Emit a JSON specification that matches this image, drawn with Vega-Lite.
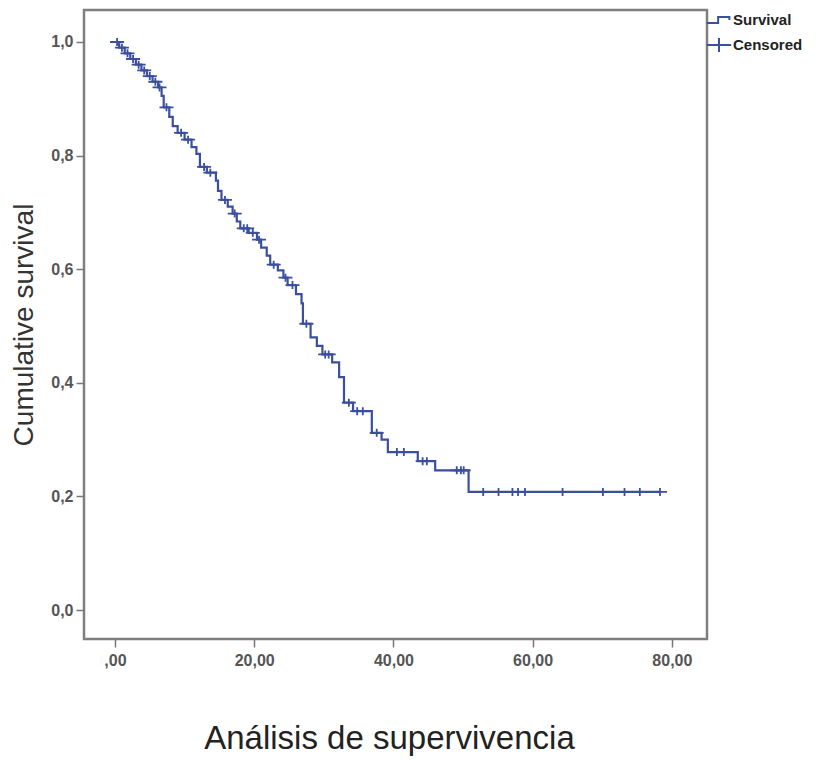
{
  "$schema": "https://vega.github.io/schema/vega-lite/v6.json",
  "width": 623,
  "height": 629,
  "autosize": "none",
  "padding": {"left": 84, "top": 10, "right": 111, "bottom": 121},
  "background": "white",
  "config": {
    "view": {"stroke": "#7f7f7f", "strokeWidth": 2.5},
    "font": "Liberation Sans"
  },
  "datasets": {
    "curve": [
      {"t": 0.0, "s": 1.000, "type": "Survival"},
      {"t": 0.6, "s": 0.990, "type": "Survival"},
      {"t": 1.4, "s": 0.980, "type": "Survival"},
      {"t": 2.2, "s": 0.970, "type": "Survival"},
      {"t": 3.0, "s": 0.960, "type": "Survival"},
      {"t": 3.8, "s": 0.950, "type": "Survival"},
      {"t": 4.6, "s": 0.940, "type": "Survival"},
      {"t": 5.4, "s": 0.930, "type": "Survival"},
      {"t": 6.2, "s": 0.920, "type": "Survival"},
      {"t": 6.7, "s": 0.905, "type": "Survival"},
      {"t": 7.0, "s": 0.885, "type": "Survival"},
      {"t": 7.8, "s": 0.868, "type": "Survival"},
      {"t": 8.3, "s": 0.852, "type": "Survival"},
      {"t": 9.0, "s": 0.840, "type": "Survival"},
      {"t": 10.0, "s": 0.828, "type": "Survival"},
      {"t": 11.0, "s": 0.815, "type": "Survival"},
      {"t": 11.7, "s": 0.803, "type": "Survival"},
      {"t": 12.2, "s": 0.780, "type": "Survival"},
      {"t": 13.2, "s": 0.770, "type": "Survival"},
      {"t": 14.5, "s": 0.756, "type": "Survival"},
      {"t": 14.8, "s": 0.738, "type": "Survival"},
      {"t": 15.3, "s": 0.722, "type": "Survival"},
      {"t": 16.2, "s": 0.710, "type": "Survival"},
      {"t": 16.9, "s": 0.698, "type": "Survival"},
      {"t": 17.5, "s": 0.684, "type": "Survival"},
      {"t": 18.0, "s": 0.672, "type": "Survival"},
      {"t": 19.2, "s": 0.664, "type": "Survival"},
      {"t": 20.4, "s": 0.652, "type": "Survival"},
      {"t": 21.0, "s": 0.638, "type": "Survival"},
      {"t": 21.8, "s": 0.624, "type": "Survival"},
      {"t": 22.3, "s": 0.608, "type": "Survival"},
      {"t": 23.4, "s": 0.598, "type": "Survival"},
      {"t": 24.2, "s": 0.585, "type": "Survival"},
      {"t": 24.8, "s": 0.572, "type": "Survival"},
      {"t": 26.0, "s": 0.556, "type": "Survival"},
      {"t": 26.8, "s": 0.540, "type": "Survival"},
      {"t": 27.0, "s": 0.504, "type": "Survival"},
      {"t": 28.1, "s": 0.480, "type": "Survival"},
      {"t": 29.0, "s": 0.465, "type": "Survival"},
      {"t": 29.8, "s": 0.450, "type": "Survival"},
      {"t": 31.2, "s": 0.436, "type": "Survival"},
      {"t": 32.2, "s": 0.410, "type": "Survival"},
      {"t": 32.9, "s": 0.365, "type": "Survival"},
      {"t": 34.2, "s": 0.350, "type": "Survival"},
      {"t": 36.9, "s": 0.312, "type": "Survival"},
      {"t": 38.3, "s": 0.300, "type": "Survival"},
      {"t": 39.2, "s": 0.278, "type": "Survival"},
      {"t": 43.5, "s": 0.262, "type": "Survival"},
      {"t": 46.0, "s": 0.246, "type": "Survival"},
      {"t": 50.8, "s": 0.208, "type": "Survival"},
      {"t": 78.3, "s": 0.208, "type": "Survival"}
    ],
    "censored": [
      {"t": 0.3, "s": 1.000, "type": "Censored"},
      {"t": 1.0, "s": 0.990, "type": "Censored"},
      {"t": 1.8, "s": 0.980, "type": "Censored"},
      {"t": 2.6, "s": 0.970, "type": "Censored"},
      {"t": 3.4, "s": 0.960, "type": "Censored"},
      {"t": 4.2, "s": 0.950, "type": "Censored"},
      {"t": 5.0, "s": 0.940, "type": "Censored"},
      {"t": 5.8, "s": 0.930, "type": "Censored"},
      {"t": 6.4, "s": 0.920, "type": "Censored"},
      {"t": 7.4, "s": 0.885, "type": "Censored"},
      {"t": 9.5, "s": 0.840, "type": "Censored"},
      {"t": 10.5, "s": 0.828, "type": "Censored"},
      {"t": 12.8, "s": 0.780, "type": "Censored"},
      {"t": 13.7, "s": 0.770, "type": "Censored"},
      {"t": 15.8, "s": 0.722, "type": "Censored"},
      {"t": 17.2, "s": 0.698, "type": "Censored"},
      {"t": 18.5, "s": 0.672, "type": "Censored"},
      {"t": 19.0, "s": 0.672, "type": "Censored"},
      {"t": 19.8, "s": 0.664, "type": "Censored"},
      {"t": 20.7, "s": 0.652, "type": "Censored"},
      {"t": 22.8, "s": 0.608, "type": "Censored"},
      {"t": 24.5, "s": 0.585, "type": "Censored"},
      {"t": 25.5, "s": 0.572, "type": "Censored"},
      {"t": 27.5, "s": 0.504, "type": "Censored"},
      {"t": 30.2, "s": 0.450, "type": "Censored"},
      {"t": 30.7, "s": 0.450, "type": "Censored"},
      {"t": 33.6, "s": 0.365, "type": "Censored"},
      {"t": 34.8, "s": 0.350, "type": "Censored"},
      {"t": 35.6, "s": 0.350, "type": "Censored"},
      {"t": 37.6, "s": 0.312, "type": "Censored"},
      {"t": 40.5, "s": 0.278, "type": "Censored"},
      {"t": 41.5, "s": 0.278, "type": "Censored"},
      {"t": 44.2, "s": 0.262, "type": "Censored"},
      {"t": 44.8, "s": 0.262, "type": "Censored"},
      {"t": 49.1, "s": 0.246, "type": "Censored"},
      {"t": 49.7, "s": 0.246, "type": "Censored"},
      {"t": 50.1, "s": 0.246, "type": "Censored"},
      {"t": 52.9, "s": 0.208, "type": "Censored"},
      {"t": 55.1, "s": 0.208, "type": "Censored"},
      {"t": 57.1, "s": 0.208, "type": "Censored"},
      {"t": 57.9, "s": 0.208, "type": "Censored"},
      {"t": 58.9, "s": 0.208, "type": "Censored"},
      {"t": 64.3, "s": 0.208, "type": "Censored"},
      {"t": 70.1, "s": 0.208, "type": "Censored"},
      {"t": 73.2, "s": 0.208, "type": "Censored"},
      {"t": 75.4, "s": 0.208, "type": "Censored"},
      {"t": 78.3, "s": 0.208, "type": "Censored"}
    ]
  },
  "encoding": {
    "x": {
      "field": "t", "type": "quantitative",
      "scale": {"domain": [-4.45, 85.05], "nice": false, "zero": false},
      "axis": {
        "title": "Análisis de supervivencia",
        "titleFontSize": 33, "titleFontWeight": "normal", "titleColor": "#222",
        "titlePadding": 54, "titleX": 305, "titleAlign": "center",
        "values": [0, 20, 40, 60, 80],
        "labelExpr": "datum.value == 0 ? ',00' : replace(format(datum.value, '.2f'), '.', ',')",
        "labelFontSize": 16, "labelFontWeight": "bold", "labelColor": "#555",
        "labelPadding": 5, "tickSize": 8, "tickColor": "#777", "tickWidth": 1.5,
        "domain": false, "grid": false
      }
    },
    "y": {
      "field": "s", "type": "quantitative",
      "scale": {"domain": [-0.051, 1.0563], "nice": false, "zero": false},
      "axis": {
        "title": "Cumulative survival",
        "titleFontSize": 28, "titleFontWeight": "normal", "titleColor": "#333",
        "titlePadding": 12,
        "values": [0, 0.2, 0.4, 0.6, 0.8, 1.0],
        "labelExpr": "replace(format(datum.value, '.1f'), '.', ',')",
        "labelFontSize": 16, "labelFontWeight": "bold", "labelColor": "#555",
        "labelPadding": 3, "tickSize": 8, "tickColor": "#777", "tickWidth": 1.5,
        "domain": false, "grid": false
      }
    }
  },
  "layer": [
    {
      "data": {"name": "curve"},
      "mark": {"type": "line", "interpolate": "step-after", "strokeWidth": 2.2},
      "encoding": {
        "color": {
          "field": "type", "type": "nominal",
          "scale": {"domain": ["Survival", "Censored"], "range": ["#3b4f9f", "#3b4f9f"]}
        }
      }
    },
    {
      "data": {"name": "censored"},
      "mark": {"type": "point", "filled": false, "size": 100, "strokeWidth": 1.8, "opacity": 1},
      "encoding": {
        "color": {
          "field": "type", "type": "nominal",
          "scale": {"domain": ["Survival", "Censored"], "range": ["#3b4f9f", "#3b4f9f"]},
          "legend": {
            "title": null, "orient": "right", "offset": 2,
            "labelFontSize": 15, "labelFontWeight": "bold", "labelColor": "#222",
            "symbolSize": 300, "symbolStrokeWidth": 2, "rowPadding": 6, "labelOffset": 4
          }
        },
        "shape": {
          "field": "type", "type": "nominal",
          "scale": {
            "domain": ["Survival", "Censored"],
            "range": ["M-1.4,0.35H-0.1V-0.35H1.2V0", "M-1.4,0H1.4M0,-0.8V0.8"]
          },
          "legend": {
            "title": null, "orient": "right", "offset": 2,
            "labelFontSize": 15, "labelFontWeight": "bold", "labelColor": "#222",
            "symbolSize": 300, "symbolStrokeWidth": 2, "rowPadding": 6, "labelOffset": 4
          }
        }
      }
    }
  ]
}
